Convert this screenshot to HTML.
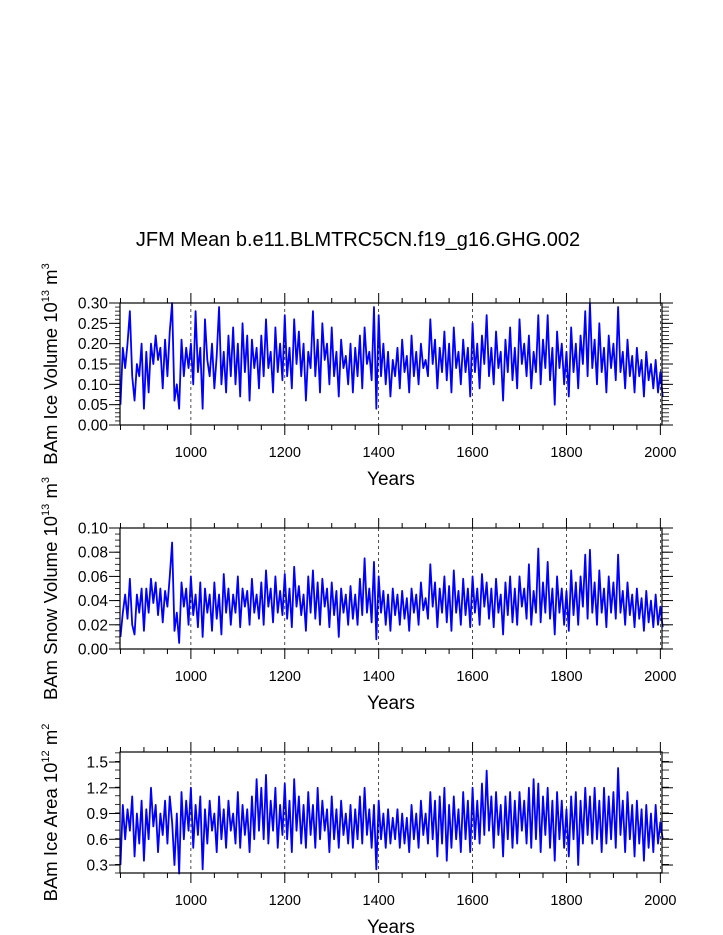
<!DOCTYPE html>
<html><head><meta charset="utf-8"><style>
html,body{margin:0;padding:0;background:#fff;}
svg{display:block;font-family:"Liberation Sans",Arial,sans-serif;}
</style></head><body>
<svg id="chart" width="723" height="935" xmlns="http://www.w3.org/2000/svg">
<text x="358" y="246" font-size="20" text-anchor="middle">JFM Mean b.e11.BLMTRC5CN.f19_g16.GHG.002</text>
</svg>
<script>
const startYear = 850;
const stepYears = 5;
const iceVolume = [
0.05,0.19,0.14,0.20,0.28,0.12,0.06,0.15,0.12,0.20,
0.04,0.18,0.08,0.20,0.15,0.22,0.16,0.19,0.09,0.21,
0.12,0.23,0.30,0.06,0.10,0.04,0.21,0.12,0.19,0.14,
0.20,0.10,0.28,0.13,0.19,0.04,0.26,0.16,0.12,0.20,
0.09,0.17,0.29,0.10,0.18,0.08,0.22,0.12,0.24,0.10,
0.20,0.07,0.25,0.13,0.22,0.06,0.21,0.14,0.19,0.09,
0.22,0.12,0.26,0.14,0.18,0.08,0.24,0.13,0.20,0.11,
0.27,0.12,0.19,0.09,0.26,0.15,0.23,0.12,0.20,0.06,
0.18,0.14,0.28,0.12,0.21,0.08,0.25,0.16,0.20,0.10,
0.24,0.12,0.18,0.07,0.21,0.14,0.17,0.10,0.20,0.08,
0.19,0.12,0.22,0.09,0.24,0.15,0.18,0.11,0.29,0.04,
0.27,0.12,0.20,0.10,0.18,0.07,0.16,0.12,0.19,0.09,
0.21,0.13,0.17,0.08,0.22,0.12,0.18,0.10,0.20,0.14,
0.16,0.12,0.26,0.15,0.21,0.09,0.19,0.13,0.23,0.11,
0.20,0.08,0.24,0.14,0.18,0.10,0.21,0.13,0.19,0.07,
0.25,0.13,0.20,0.09,0.22,0.15,0.27,0.12,0.19,0.10,
0.23,0.14,0.18,0.06,0.21,0.13,0.24,0.11,0.19,0.09,
0.26,0.15,0.20,0.12,0.22,0.09,0.18,0.13,0.27,0.10,
0.21,0.14,0.27,0.11,0.19,0.05,0.23,0.14,0.20,0.10,
0.18,0.07,0.24,0.13,0.20,0.09,0.22,0.15,0.28,0.12,
0.30,0.14,0.21,0.10,0.25,0.13,0.19,0.08,0.22,0.14,
0.20,0.11,0.29,0.13,0.18,0.09,0.21,0.12,0.17,0.08,
0.19,0.12,0.16,0.07,0.18,0.11,0.15,0.09,0.16,0.08,
0.13,0.07];
const snowVolume = [
0.01,0.03,0.045,0.025,0.058,0.02,0.012,0.045,0.03,0.05,
0.015,0.05,0.03,0.058,0.038,0.055,0.028,0.05,0.022,0.048,
0.035,0.06,0.088,0.015,0.03,0.005,0.055,0.035,0.05,0.02,
0.06,0.028,0.045,0.018,0.055,0.01,0.05,0.03,0.045,0.015,
0.055,0.025,0.045,0.012,0.062,0.03,0.05,0.02,0.045,0.03,
0.06,0.018,0.05,0.035,0.048,0.02,0.058,0.03,0.045,0.025,
0.055,0.02,0.065,0.035,0.05,0.022,0.06,0.03,0.048,0.028,
0.062,0.025,0.05,0.018,0.068,0.035,0.052,0.028,0.045,0.015,
0.06,0.03,0.065,0.025,0.055,0.02,0.058,0.035,0.05,0.018,
0.055,0.028,0.048,0.01,0.05,0.03,0.045,0.02,0.052,0.025,
0.045,0.02,0.058,0.028,0.075,0.03,0.05,0.022,0.072,0.008,
0.06,0.03,0.048,0.02,0.045,0.015,0.05,0.028,0.045,0.02,
0.048,0.025,0.042,0.015,0.05,0.03,0.045,0.02,0.055,0.032,
0.042,0.025,0.07,0.035,0.055,0.018,0.05,0.03,0.06,0.022,
0.052,0.015,0.065,0.03,0.048,0.02,0.058,0.028,0.05,0.018,
0.06,0.03,0.05,0.02,0.062,0.035,0.055,0.025,0.05,0.018,
0.058,0.03,0.045,0.012,0.055,0.028,0.06,0.022,0.05,0.02,
0.06,0.035,0.05,0.025,0.07,0.02,0.048,0.03,0.083,0.022,
0.055,0.03,0.072,0.025,0.05,0.012,0.06,0.03,0.05,0.02,
0.048,0.015,0.065,0.028,0.055,0.02,0.06,0.035,0.078,0.025,
0.082,0.03,0.055,0.02,0.065,0.03,0.05,0.018,0.06,0.03,
0.055,0.025,0.078,0.03,0.048,0.02,0.055,0.028,0.045,0.018,
0.05,0.025,0.042,0.015,0.048,0.022,0.04,0.018,0.045,0.02,
0.035,0.018];
const iceArea = [
0.3,1.0,0.6,0.95,0.7,1.1,0.4,0.9,0.55,1.05,
0.35,0.95,0.6,1.2,0.75,1.0,0.45,0.9,0.65,1.05,
0.55,1.1,0.8,0.3,0.9,0.2,1.15,0.6,1.05,0.7,
1.2,0.5,1.0,0.65,1.1,0.25,0.95,0.55,1.05,0.7,
0.9,0.45,1.1,0.6,0.95,0.5,1.05,0.7,0.9,0.55,
1.15,0.5,1.0,0.65,0.95,0.45,1.1,0.6,1.3,0.7,
1.2,0.6,1.35,0.55,1.05,0.7,1.2,0.5,1.0,0.65,
1.25,0.6,1.05,0.45,1.3,0.7,1.1,0.55,1.0,0.5,
1.15,0.65,1.0,0.5,1.2,0.6,1.05,0.7,0.95,0.45,
1.1,0.6,0.95,0.5,1.05,0.65,0.9,0.55,1.0,0.5,
0.95,0.6,1.1,0.55,1.2,0.65,0.95,0.5,1.0,0.25,
1.05,0.6,0.9,0.5,0.95,0.55,0.85,0.6,0.95,0.5,
0.9,0.55,0.85,0.45,1.0,0.6,0.9,0.5,1.05,0.65,
0.9,0.55,1.15,0.6,1.05,0.4,1.1,0.55,1.2,0.35,
1.0,0.5,1.1,0.6,0.95,0.45,1.15,0.6,1.05,0.45,
1.2,0.6,1.05,0.55,1.25,0.65,1.4,0.7,1.1,0.5,
1.15,0.65,1.0,0.4,1.1,0.6,1.15,0.5,1.05,0.55,
1.15,0.7,1.05,0.55,1.2,0.5,1.3,0.6,1.25,0.45,
1.1,0.65,1.2,0.5,1.05,0.35,1.15,0.6,1.05,0.5,
0.95,0.4,1.1,0.6,1.15,0.3,1.05,0.55,1.2,0.65,
1.1,0.55,1.2,0.6,1.05,0.45,1.2,0.55,1.1,0.6,
1.15,0.5,1.43,0.65,1.05,0.45,1.15,0.6,1.0,0.4,
1.05,0.55,0.95,0.35,1.0,0.5,0.9,0.45,1.0,0.55,
0.8,0.6];
const xTickLabels = [1000,1200,1400,1600,1800,2000];
const ticks1 = ["0.00","0.05","0.10","0.15","0.20","0.25","0.30"];
const ticks2 = ["0.00","0.02","0.04","0.06","0.08","0.10"];
const ticks3 = ["0.3","0.6","0.9","1.2","1.5"];

const NS = "http://www.w3.org/2000/svg";
const svg = document.getElementById('chart');
function mk(tag, attrs, parent){
  const e = document.createElementNS(NS, tag);
  for (const k in attrs) e.setAttribute(k, attrs[k]);
  (parent || svg).appendChild(e);
  return e;
}
const X0 = 120, X1 = 662, Y0 = 849, Y1 = 2003.5;
function xs(yr){ return X0 + (yr - Y0) / (Y1 - Y0) * (X1 - X0); }

function panel(name, top, bottom, ymin, ymax, labels, minorStep, data, titleMain, sup1, unit, sup2){
  const g = mk('g', {});
  
  
  const ys = v => bottom - (v - ymin) / (ymax - ymin) * (bottom - top);
  xTickLabels.forEach(yr => {
    const l = mk('line', {x1: xs(yr), x2: xs(yr), y1: top, y2: bottom, stroke: '#000', 'stroke-width': 0.7, 'stroke-dasharray': '3,3'}, g);
    
    
  });
  let d = '';
  data.forEach((v, i) => { d += (i ? 'L' : 'M') + xs(startYear + i * stepYears).toFixed(2) + ',' + ys(v).toFixed(2); });
  const p = mk('path', {d: d, fill: 'none', stroke: '#0000ff', 'stroke-width': 1.8, 'stroke-linejoin': 'round'}, g);
  
  
  const r = mk('rect', {x: X0, y: top, width: X1 - X0, height: bottom - top, fill: 'none', stroke: '#000', 'stroke-width': 1.2}, g);
  
  
  for (let yr = 850; yr <= 2000; yr += 50) {
    const major = yr % 200 === 0;
    const len = major ? 10 : 5;
    mk('line', {x1: xs(yr), x2: xs(yr), y1: top, y2: top - len, stroke: '#000', 'stroke-width': 1}, g);
    mk('line', {x1: xs(yr), x2: xs(yr), y1: bottom, y2: bottom + len, stroke: '#000', 'stroke-width': 1}, g);
  }
  xTickLabels.forEach(yr => {
    const t = mk('text', {x: xs(yr), y: bottom + 32, 'font-size': 14.5, 'text-anchor': 'middle'}, g);
    t.textContent = yr;
    
    
  });
  const xt = mk('text', {x: 391, y: bottom + 60, 'font-size': 19, 'text-anchor': 'middle'}, g);
  xt.textContent = 'Years';
  
  
  for (let v = ymin; v <= ymax + 1e-9; v += minorStep) {
    const y = ys(v);
    mk('line', {x1: X0, x2: X0 - 5, y1: y, y2: y, stroke: '#000', 'stroke-width': 0.8}, g);
    mk('line', {x1: X1, x2: X1 + 7, y1: y, y2: y, stroke: '#000', 'stroke-width': 0.8}, g);
  }
  labels.forEach(s => {
    const v = parseFloat(s), y = ys(v);
    mk('line', {x1: X0, x2: X0 - 11, y1: y, y2: y, stroke: '#000', 'stroke-width': 1}, g);
    mk('line', {x1: X1, x2: X1 + 11, y1: y, y2: y, stroke: '#000', 'stroke-width': 1}, g);
    const t = mk('text', {x: X0 - 12, y: y + 5.5, 'font-size': 15.5, 'text-anchor': 'end'}, g);
    t.textContent = s;
    
    
  });
  const cy = (top + bottom) / 2;
  const yt = mk('text', {x: 0, y: 0, 'font-size': 18.5, 'text-anchor': 'middle', transform: 'translate(57,' + cy + ') rotate(-90)'}, g);
  
  
  const a = mk('tspan', {}, yt); a.textContent = titleMain + ' 10';
  const b = mk('tspan', {dy: -8, 'font-size': 11}, yt); b.textContent = sup1;
  const c = mk('tspan', {dy: 8}, yt); c.textContent = ' ' + unit;
  const e = mk('tspan', {dy: -8, 'font-size': 11}, yt); e.textContent = sup2;
}
panel('ice-volume', 303, 425, 0, 0.30, ticks1, 0.01, iceVolume, 'BAm Ice Volume', '13', 'm', '3');
panel('snow-volume', 528, 649, 0, 0.10, ticks2, 0.005, snowVolume, 'BAm Snow Volume', '13', 'm', '3');
panel('ice-area', 752, 873, 0.207, 1.617, ticks3, 0.1, iceArea, 'BAm Ice Area', '12', 'm', '2');
</script>
</body></html>
